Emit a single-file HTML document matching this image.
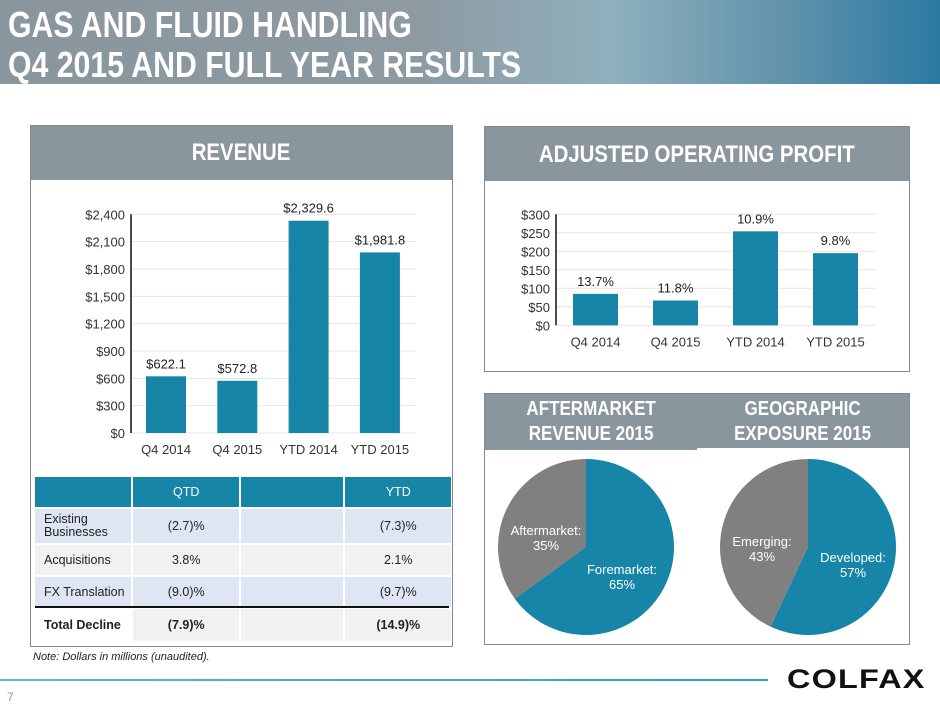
<!DOCTYPE html>
<html><head><meta charset="utf-8"><style>
body{margin:0;width:940px;height:705px;overflow:hidden;background:#fff;font-family:"Liberation Sans",sans-serif;position:relative}
.abs{position:absolute}
.hdr{color:#fff;font-weight:bold;text-align:center;font-family:"Liberation Sans Narrow","Liberation Sans",sans-serif;}
table{border-collapse:separate;border-spacing:2px 2px;font-size:12.5px;color:#222;table-layout:fixed}
td{padding:0 0;white-space:nowrap}
td.f{padding-left:9px}
td.c{text-align:center}
</style></head><body>
<div class="abs" style="left:0;top:0;width:940px;height:84px;background:linear-gradient(90deg,#8a969e 0%,#8d9aa2 45%,#8fb0bd 65%,#5d90aa 85%,#2a7aa3 100%)"></div>
<div class="abs" style="left:8px;top:5px;color:#fff;font-weight:bold;font-size:36px;line-height:40px;transform:scaleX(0.84);transform-origin:left top;white-space:nowrap">GAS AND FLUID HANDLING<br>Q4 2015 AND FULL YEAR RESULTS</div>

<!-- Revenue panel -->
<div class="abs" style="left:30px;top:125px;width:423px;height:522px;border:1px solid #7f8a92;box-sizing:border-box"></div>
<div class="abs hdr" style="left:31px;top:126px;width:421px;height:54px;background:#8a969e;font-size:24px;line-height:54px"><span style="display:inline-block;transform:scaleX(0.85)">REVENUE</span></div>
<svg class="abs" style="left:0;top:0" width="940" height="705" id="charts"></svg>

<table class="abs" style="left:33px;top:475px;width:420px">
<colgroup><col style="width:96px"><col style="width:105px"><col style="width:102px"><col style="width:105px"></colgroup>
<tr style="height:30px;background:#1685a8;color:#fff"><td></td><td class="c">QTD</td><td></td><td class="c">YTD</td></tr>
<tr style="height:34px;background:#dfe6f3"><td class="f" style="line-height:13px">Existing<br>Businesses</td><td class="c">(2.7)%</td><td></td><td class="c">(7.3)%</td></tr>
<tr style="height:30px;background:#f1f1f1"><td class="f">Acquisitions</td><td class="c">3.8%</td><td></td><td class="c">2.1%</td></tr>
<tr style="height:30px;background:#dfe6f3"><td class="f">FX Translation</td><td class="c">(9.0)%</td><td></td><td class="c">(9.7)%</td></tr>
<tr style="height:32px;background:#f1f1f1;font-weight:bold"><td class="f" style="background:#fff">Total Decline</td><td class="c">(7.9)%</td><td></td><td class="c">(14.9)%</td></tr>
</table>
<div class="abs" style="left:35px;top:606px;width:414px;height:2px;background:#111"></div>
<div class="abs" style="left:33px;top:651px;font-size:11px;font-style:italic;color:#222">Note: Dollars in millions (unaudited).</div>

<!-- Profit panel -->
<div class="abs" style="left:484px;top:126px;width:426px;height:246px;border:1px solid #7f8a92;box-sizing:border-box"></div>
<div class="abs hdr" style="left:485px;top:127px;width:424px;height:54px;background:#8a969e;font-size:24px;line-height:56px"><span style="display:inline-block;transform:scaleX(0.85)">ADJUSTED OPERATING PROFIT</span></div>

<!-- Pie panel -->
<div class="abs" style="left:484px;top:393px;width:426px;height:252px;border:1px solid #7f8a92;box-sizing:border-box"></div>
<div class="abs hdr" style="left:485px;top:394px;width:212px;height:56px;background:#8a969e;font-size:20px;line-height:25px;padding-top:3px;box-sizing:border-box"><span style="display:inline-block;transform:scaleX(0.85)">AFTERMARKET<br>REVENUE 2015</span></div>
<div class="abs hdr" style="left:697px;top:394px;width:212px;height:54px;background:#8a969e;font-size:20px;line-height:25px;padding-top:3px;box-sizing:border-box"><span style="display:inline-block;transform:scaleX(0.85)">GEOGRAPHIC<br>EXPOSURE 2015</span></div>

<div class="abs" style="left:0;top:679px;width:768px;height:2px;background:linear-gradient(90deg,#5bb5dc,#2a9fd6)"></div>
<div class="abs" style="left:787px;top:664px;font-size:27px;font-weight:900;letter-spacing:1px;color:#111;transform:scaleX(1.2);transform-origin:left top">COLFAX</div>
<div class="abs" style="left:7px;top:690px;font-size:12px;color:#8a969e">7</div>

<script>
const revCats=["Q4 2014","Q4 2015","YTD 2014","YTD 2015"];
const revValues=[622.1,572.8,2329.6,1981.8];
const revLabels=["$622.1","$572.8","$2,329.6","$1,981.8"];
const revTicks=[0,300,600,900,1200,1500,1800,2100,2400];
const profCats=["Q4 2014","Q4 2015","YTD 2014","YTD 2015"];
const profValues=[85,67,254,195];
const profLabels=["13.7%","11.8%","10.9%","9.8%"];
const profTicks=[0,50,100,150,200,250,300];
const pieA=[{name:"Foremarket:",v:65},{name:"Aftermarket:",v:35}];
const pieB=[{name:"Developed:",v:57},{name:"Emerging:",v:43}];

const svg=document.getElementById('charts');
const NS='http://www.w3.org/2000/svg';
function mk(tag,at,txt){const e=document.createElementNS(NS,tag);for(const k in at)e.setAttribute(k,at[k]);if(txt!=null)e.textContent=txt;svg.appendChild(e);return e;}
function fmt(t){return '$'+t.toLocaleString('en-US');}

function bar(cfg,cats,vals,labels,ticks,prefix){
  const y=v=>cfg.y0-(v/cfg.max)*(cfg.y0-cfg.y1);
  ticks.forEach(t=>{
    const g=mk('line',{x1:cfg.ax,x2:cfg.gx,y1:y(t),y2:y(t),stroke:'#e6e6e6','stroke-width':1});
    
    
    const l=mk('text',{x:cfg.ax-6,y:y(t)+5,'text-anchor':'end','font-size':13,fill:'#333','font-family':'Liberation Sans'},fmt(t));
    
    
  });
  const a=mk('line',{x1:cfg.ax,x2:cfg.ax,y1:cfg.y1,y2:cfg.y0,stroke:'#111','stroke-width':1.5});
  
  
  cats.forEach((c,i)=>{
    const cx=cfg.c0+i*cfg.step;
    const r=mk('rect',{x:cx-cfg.bw/2,y:y(vals[i]),width:cfg.bw,height:cfg.y0-y(vals[i]),fill:'#1685a8'});
    
    
    const v=mk('text',{x:cx,y:y(vals[i])-8,'text-anchor':'middle','font-size':13,fill:'#222','font-family':'Liberation Sans'},labels[i]);
    
    
    const cl=mk('text',{x:cx,y:cfg.y0+21,'text-anchor':'middle','font-size':13,fill:'#333','font-family':'Liberation Sans'},c);
    
    
  });
}
bar({ax:131,gx:416,y0:433,y1:214.3,max:2400,c0:166,step:71.3,bw:40},revCats,revValues,revLabels,revTicks,'revenue');
bar({ax:556,gx:876,y0:325.3,y1:214.3,max:300,c0:595.5,step:80,bw:45},profCats,profValues,profLabels,profTicks,'profit');

function pie(cx,cy,r,data,prefix,lab){
  const tot=data.reduce((s,d)=>s+d.v,0);let a0=-Math.PI/2;
  const cols=['#1685a8','#808080'];
  data.forEach((d,i)=>{
    const a1=a0+d.v/tot*2*Math.PI;
    const large=(a1-a0)>Math.PI?1:0;
    const p=mk('path',{d:`M${cx},${cy}L${cx+r*Math.cos(a0)},${cy+r*Math.sin(a0)}A${r},${r} 0 ${large} 1 ${cx+r*Math.cos(a1)},${cy+r*Math.sin(a1)}Z`,fill:cols[i]});
    
    
    const lx=cx+lab[i][0],ly=cy+lab[i][1];
    const t1=mk('text',{x:lx,y:ly,'text-anchor':'middle','font-size':13,fill:'#fff','font-family':'Liberation Sans'},d.name);
    
    
    const t2=mk('text',{x:lx,y:ly+15,'text-anchor':'middle','font-size':13,fill:'#fff','font-family':'Liberation Sans'},d.v+'%');
    
    
    a0=a1;
  });
}
pie(586,547,88,pieA,'aftermarket-pie',[[36,27],[-40,-12]]);
pie(808,547,88,pieB,'geographic-pie',[[45,15],[-46,-1]]);
</script>
</body></html>
